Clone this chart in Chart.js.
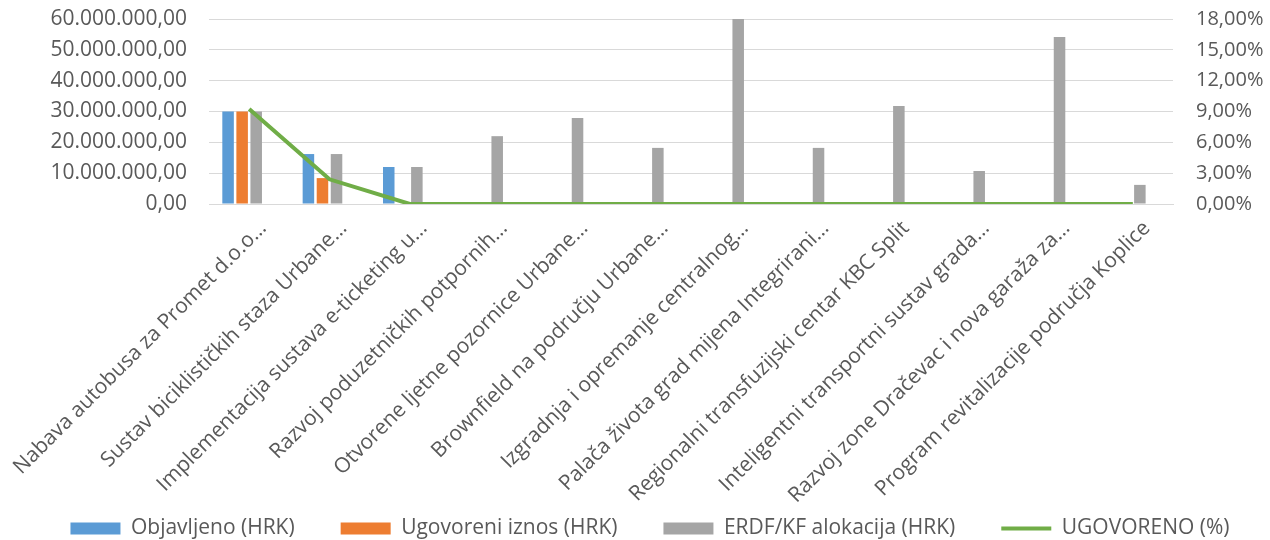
<!DOCTYPE html>
<html>
<head>
<meta charset="utf-8">
<script src="https://cdn.jsdelivr.net/npm/chart.js@4"></script>
<style>
    html, body { margin: 0; padding: 0; background: #fff; }
    #wrap { width: 1270px; height: 540px; }
</style>
</head>
<body>
<div id="wrap"><canvas id="myChart"></canvas></div>
<script>
// --- DONNÉES ---
const categories = [
    'Nabava autobusa za Promet d.o.o…',
    'Sustav biciklističkih staza Urbane…',
    'Implementacija sustava e-ticketing u…',
    'Razvoj poduzetničkih potpornih…',
    'Otvorene ljetne pozornice Urbane…',
    'Brownfield na području Urbane…',
    'Izgradnja i opremanje centralnog…',
    'Palača života grad mijena Integrirani…',
    'Regionalni transfuzijski centar KBC Split',
    'Inteligentni transportni sustav grada…',
    'Razvoj zone Dračevac i nova garaža za…',
    'Program revitalizacije područja Koplice'
];
const objavljeno = [30000000, 16200000, 12000000, null, null, null, null, null, null, null, null, null];
const ugovoreno = [30000000, 8400000, null, null, null, null, null, null, null, null, null, null];
const alokacija = [30000000, 16200000, 12000000, 22000000, 27900000, 18200000, 60000000, 18200000, 31800000, 10700000, 54200000, 6200000];
const ugovorenoPosto = [9.25, 2.4, 0, 0, 0, 0, 0, 0, 0, 0, 0, 0];

const leftTicks = [0, 10000000, 20000000, 30000000, 40000000, 50000000, 60000000];
const rightTicks = [0, 3, 6, 9, 12, 15, 18];

const FONT = "'Open Sans', sans-serif";
const TXT = '#595959';

// format 60.000.000,00
function fmtHrk(v) {
    const s = Math.round(v).toString().replace(/\B(?=(\d{3})+(?!\d))/g, '.');
    return s + ',00';
}
function fmtPct(v) {
    return v.toFixed(2).replace('.', ',') + '%';
}

// légende : hauteur fixe + léger décalage comme dans Excel
const legendFix = {
    id: 'legendFix',
    afterInit(chart) {
        const leg = chart.legend;
        const fit = leg.fit;
        leg.fit = function () { fit.call(this); this.height = 70; };
        const draw = leg.draw;
        leg.draw = function (area) {
            this.ctx.save();
            this.ctx.translate(15, 2);
            draw.call(this, area);
            this.ctx.restore();
        };
    }
};

const noPad = scale => {
    scale.paddingTop = 0; scale.paddingBottom = 0;
    scale.paddingLeft = 0; scale.paddingRight = 0;
};

const ctx = document.getElementById('myChart');
const myChart = new Chart(ctx, {
    data: {
        labels: categories,
        datasets: [
            {
                type: 'line', label: 'UGOVORENO (%)', data: ugovorenoPosto, yAxisID: 'y2',
                borderColor: '#70AD47', backgroundColor: '#70AD47', borderWidth: 4,
                pointRadius: 0, tension: 0, pointStyle: 'line', order: 0
            },
            { type: 'bar', label: 'Objavljeno (HRK)', data: objavljeno, backgroundColor: '#5B9BD5', pointStyle: 'rect', order: 1 },
            { type: 'bar', label: 'Ugovoreni iznos (HRK)', data: ugovoreno, backgroundColor: '#ED7D31', pointStyle: 'rect', order: 2 },
            { type: 'bar', label: 'ERDF/KF alokacija (HRK)', data: alokacija, backgroundColor: '#A5A5A5', pointStyle: 'rect', order: 3 },
            // emplacement vide (Excel réserve une 4e colonne)
            { type: 'bar', label: '', data: [], backgroundColor: 'rgba(0,0,0,0)', order: 4 }
        ]
    },
    plugins: [legendFix],
    options: {
        responsive: true,
        maintainAspectRatio: false,
        animation: false,
        layout: { autoPadding: false, padding: { top: 19, bottom: 0, left: 0, right: 0 } },
        datasets: { bar: { categoryPercentage: 0.70, barPercentage: 0.82 } },
        plugins: {
            legend: {
                position: 'bottom',
                labels: {
                    usePointStyle: true,
                    pointStyleWidth: 50,
                    boxHeight: 12,
                    padding: 46,
                    color: TXT,
                    font: { family: FONT, size: 21 },
                    filter: item => item.text !== '',
                    sort: (a, b) => {
                        const ord = ['Objavljeno (HRK)', 'Ugovoreni iznos (HRK)', 'ERDF/KF alokacija (HRK)', 'UGOVORENO (%)'];
                        return ord.indexOf(a.text) - ord.indexOf(b.text);
                    }
                }
            },
            tooltip: { enabled: false }
        },
        scales: {
            x: {
                grid: { display: false },
                border: { color: '#D9D9D9' },
                ticks: {
                    color: TXT, font: { family: FONT, size: 21 },
                    minRotation: 45, maxRotation: 45, autoSkip: false, labelOffset: 14, padding: 4
                },
                afterFit: scale => {
                    scale.height = 266;
                    noPad(scale);
                    // pas de découpage des longues étiquettes
                    scale._computeLabelArea = () => null;
                }
            },
            y: {
                position: 'left', min: 0, max: 60000000,
                afterBuildTicks: scale => { scale.ticks = leftTicks.map(v => ({ value: v })); },
                grid: { color: '#D9D9D9', drawTicks: false },
                border: { display: false },
                ticks: { color: TXT, font: { family: FONT, size: 21 }, padding: 22, autoSkip: false, callback: v => fmtHrk(v) },
                afterFit: scale => { scale.width = 209; noPad(scale); }
            },
            y2: {
                position: 'right', min: 0, max: 18,
                afterBuildTicks: scale => { scale.ticks = rightTicks.map(v => ({ value: v })); },
                grid: { display: false, drawTicks: false },
                border: { display: false },
                ticks: { color: TXT, font: { family: FONT, size: 20 }, padding: 23, autoSkip: false, callback: v => fmtPct(v) },
                afterFit: scale => { scale.width = 97; noPad(scale); }
            }
        }
    }
});
</script>
</body>
</html>
